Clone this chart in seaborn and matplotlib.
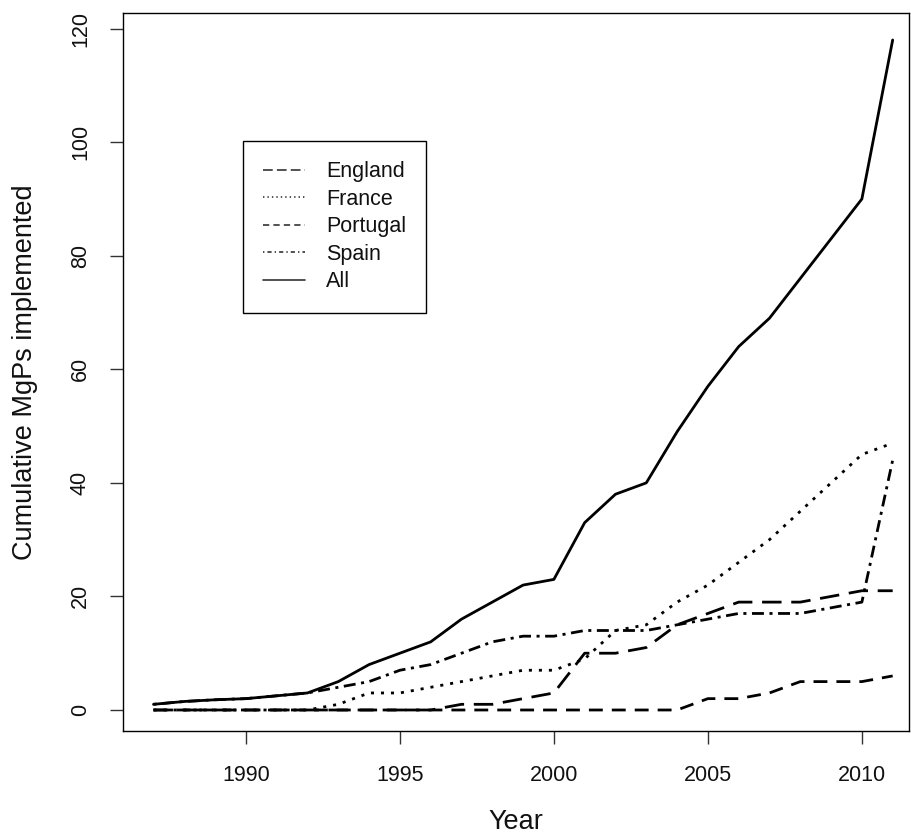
import matplotlib
matplotlib.use("Agg")
import matplotlib.pyplot as plt
from matplotlib.lines import Line2D
import seaborn as sns
import pandas as pd

# Cumulative number of MgPs implemented per country, 1987-2011
years = list(range(1987, 2012))
england = [0, 0, 0, 0, 0, 0, 0, 0, 0, 0, 1, 1, 2, 3, 10, 10, 11, 15, 17, 19, 19, 19, 20, 21, 21]
france = [0, 0, 0, 0, 0, 0, 1, 3, 3, 4, 5, 6, 7, 7, 9, 14, 15, 19, 22, 26, 30, 35, 40, 45, 47]
portugal = [0, 0, 0, 0, 0, 0, 0, 0, 0, 0, 0, 0, 0, 0, 0, 0, 0, 0, 2, 2, 3, 5, 5, 5, 6]
spain = [1, 1.5, 1.8, 2, 2.5, 3, 4, 5, 7, 8, 10, 12, 13, 13, 14, 14, 14, 15, 16, 17, 17, 17, 18, 19, 44]
all_countries = [1, 1.5, 1.8, 2, 2.5, 3, 5, 8, 10, 12, 16, 19, 22, 23, 33, 38, 40, 49, 57, 64, 69, 76, 83, 90, 118]

series_names = ["England", "France", "Portugal", "Spain", "All"]
series_values = [england, france, portugal, spain, all_countries]

# dash patterns in points (R-like lty 5, 3, 2, 4, 1) for the plotted lines
line_styles = {
    "England": (0, (14, 7)),
    "France": (0, (2.2, 5)),
    "Portugal": (0, (10, 6.5)),
    "Spain": (0, (2.2, 4, 8.6, 4)),
    "All": "-",
}
# thinner versions used for the legend keys
key_styles = {
    "England": (0, (7, 3)),
    "France": (0, (1, 2.2)),
    "Portugal": (0, (4.5, 3)),
    "Spain": (0, (1, 2.2, 3, 2.2)),
    "All": "-",
}

df = pd.DataFrame({
    "Year": years * len(series_names),
    "Count": [v for vals in series_values for v in vals],
    "Country": [n for n in series_names for _ in years],
})

sns.set_style("white")
plt.rcParams["font.family"] = ["Liberation Sans", "DejaVu Sans"]
plt.rcParams["lines.scale_dashes"] = False

fig = plt.figure(figsize=(9.11, 8.38), dpi=100)
W, H = 911, 838
left, right, top, bottom = 122.7, 909.0, 13.3, 731.0
ax = fig.add_axes([left / W, 1 - bottom / H, (right - left) / W, (bottom - top) / H])

for name in series_names:
    sub = df[df["Country"] == name]
    sns.lineplot(data=sub, x="Year", y="Count", ax=ax, color="black",
                 linewidth=2.0, linestyle=line_styles[name], legend=False)

ax.set_xlim(1986.0, 2011.53)
ax.set_ylim(-3.7, 122.7)
ax.set_xticks([1990, 1995, 2000, 2005, 2010])
ax.set_yticks([0, 20, 40, 60, 80, 100, 120])

for s in ax.spines.values():
    s.set_visible(True)
    s.set_color("black")
    s.set_linewidth(1.0)

ax.tick_params(axis="both", which="major", direction="out", length=9.4,
               width=1.0, color="#333333", labelsize=15.5, labelcolor="#111111",
               bottom=True, left=True)
ax.tick_params(axis="x", pad=15)
ax.tick_params(axis="y", pad=13.5, labelrotation=90)
for lbl in ax.get_yticklabels():
    lbl.set_va("center")

ax.set_xlabel("Year", fontsize=19.5, color="#111111")
ax.set_ylabel("Cumulative MgPs implemented", fontsize=19.5, color="#111111")
ax.xaxis.set_label_coords(0.5, (bottom - 822) / (bottom - top))
ax.xaxis.label.set_va("center")
ax.yaxis.set_label_coords((25 - left) / (right - left), 0.5)
ax.yaxis.label.set_va("center")

handles = [Line2D([], [], color="#333333", linewidth=1.2, linestyle=key_styles[n])
           for n in series_names]
leg = ax.legend(handles, series_names, loc="upper left",
                bbox_to_anchor=((243 - left) / (right - left), (bottom - 141) / (bottom - top)),
                borderaxespad=0, fontsize=15.5, frameon=True, fancybox=False,
                edgecolor="black", framealpha=1, handlelength=1.95,
                handletextpad=0.95, borderpad=0.95, labelspacing=0.3)
leg.get_frame().set_linewidth(1.0)
for t in leg.get_texts():
    t.set_color("#111111")

fig.savefig("out.png", dpi=100, facecolor="white")
